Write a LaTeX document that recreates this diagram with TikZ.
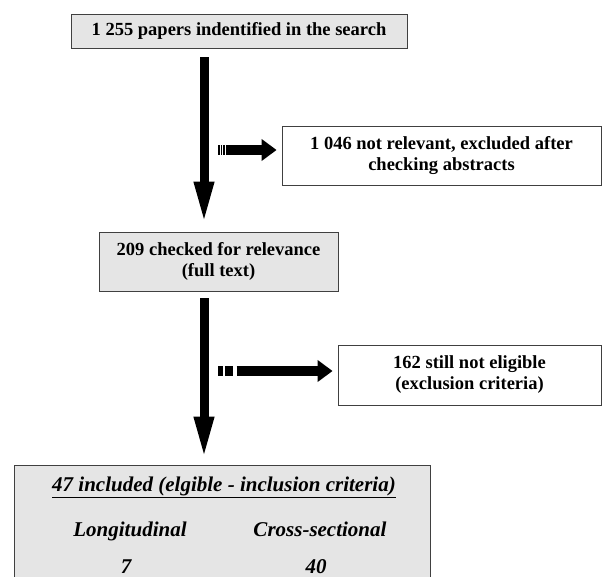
\documentclass[tikz,border=0pt]{standalone}
\usepackage{fontspec}
\setmainfont{Liberation Serif}
\usetikzlibrary{arrows.meta}
\begin{document}
\begin{tikzpicture}[x=1pt,y=-1pt,
    box/.style={draw=black!75,line width=0.8pt,inner sep=0pt,align=center,
      font=\fontsize{18.5}{21}\selectfont\bfseries},
    graybox/.style={box,fill=black!10},
    whitebox/.style={box,fill=white},
    result/.style={anchor=base,font=\fontsize{21}{24}\selectfont\bfseries\itshape},
    mainarrow/.style={line width=9pt,-{Triangle[length=43pt,width=18pt]}},
    sidearrow/.style={line width=10pt,-{Triangle[length=15pt,width=21pt]}}]
  \clip (0,0) rectangle (602,577);
  \node[graybox,minimum width=336pt,minimum height=34pt] (b1) at (239,31)
    {1 255 papers indentified in the search};
  \node[whitebox,minimum width=319pt,minimum height=59pt] (b2) at (441.5,155.5)
    {1 046 not relevant, excluded after\\checking abstracts};
  \node[graybox,minimum width=239pt,minimum height=59pt] (b3) at (218.5,261.5)
    {209 checked for relevance\\(full text)};
  \node[whitebox,minimum width=263pt,minimum height=60pt] (b4) at (469.5,375)
    {162 still not eligible\\(exclusion criteria)};
  \node[graybox,minimum width=416pt,minimum height=134pt] (b5) at (222,532) {};
  \node[result] (inc) at (224,491) {\underline{47 included (elgible - inclusion criteria)}};
  \node[result] (lon) at (130,536) {Longitudinal};
  \node[result] (crs) at (320,536) {Cross-sectional};
  \node[result] (n1) at (126,573) {7};
  \node[result] (n2) at (316,573) {40};
  \coordinate (m) at (204,0);
  \coordinate (e1) at (218,150);
  \coordinate (e2) at (218,371);
  \draw[mainarrow,shorten <=9pt,shorten >=7pt] (b1.south -| m) -- (b3.north -| m);
  \draw[mainarrow,shorten <=7pt,shorten >=5pt] (b3.south -| m) -- (b5.north -| m);
  \draw[sidearrow,dash pattern=on 1.7pt off 1pt on 1.7pt off 1pt on 1.7pt off 1pt on 200pt,
    shorten >=5pt] (e1) -- (e1 -| b2.west);
  \draw[sidearrow,dash pattern=on 4.5pt off 2.5pt on 8pt off 3.5pt on 300pt,
    shorten >=5pt] (e2) -- (e2 -| b4.west);
\end{tikzpicture}
\end{document}
